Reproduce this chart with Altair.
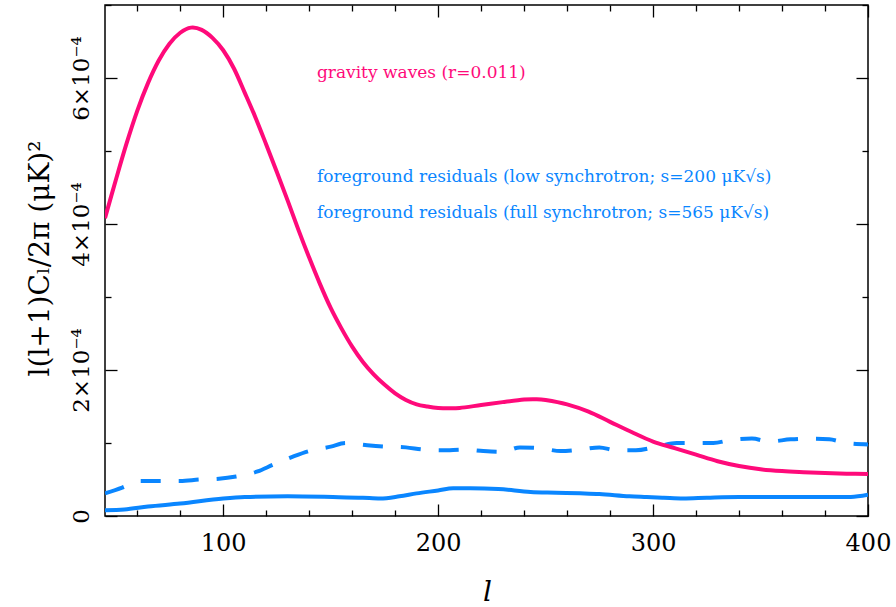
import altair as alt
import pandas as pd

# Plot area size in pixels
W, H = 763, 511
FONT = "DejaVu Serif"
PINK = "#ff0a7a"
BLUE = "#0a86ff"

# Tensor (gravity-wave) B-mode spectrum, r = 0.011  (values in units of 1e-4 muK^2)
gw_l = [45, 50, 55, 60, 65, 70, 75, 80, 85, 90, 95, 100, 105, 110, 115, 120,
        125, 130, 135, 140, 145, 150, 155, 160, 165, 170, 175, 180, 185, 190,
        195, 200, 205, 210, 220, 230, 240, 245, 250, 260, 270, 280, 290, 300,
        310, 320, 330, 340, 350, 360, 370, 380, 390, 400]
gw_v = [4.08, 4.60, 5.10, 5.55, 5.93, 6.24, 6.47, 6.62, 6.69, 6.66, 6.55, 6.38,
        6.13, 5.80, 5.46, 5.09, 4.71, 4.32, 3.92, 3.54, 3.18, 2.85, 2.57, 2.32,
        2.11, 1.94, 1.80, 1.68, 1.59, 1.53, 1.50, 1.48, 1.475, 1.48, 1.52, 1.56,
        1.595, 1.60, 1.59, 1.53, 1.43, 1.29, 1.15, 1.02, 0.93, 0.84, 0.75, 0.685,
        0.64, 0.615, 0.60, 0.588, 0.58, 0.575]

# Foreground residuals, low synchrotron (s = 200 muK sqrt(s))
low_l = [45, 54, 65, 80, 100, 110, 130, 151, 165, 173, 182, 190, 200, 207, 215,
         228, 243, 255, 266, 275, 289, 297, 305, 314, 325, 340, 360, 380, 392, 400]
low_v = [0.08, 0.09, 0.13, 0.17, 0.24, 0.26, 0.27, 0.26, 0.25, 0.24, 0.27, 0.31,
         0.35, 0.38, 0.38, 0.37, 0.33, 0.32, 0.31, 0.30, 0.27, 0.26, 0.25, 0.24,
         0.25, 0.26, 0.26, 0.26, 0.26, 0.29]

# Foreground residuals, full synchrotron (s = 565 muK sqrt(s))
full_l = [45, 53, 61, 71, 80, 89, 98, 106, 116, 123, 133, 140, 150, 157, 167,
          176, 185, 193, 202, 212, 221, 230, 238, 247, 257, 266, 275, 283, 292,
          302, 311, 320, 328, 336, 346, 354, 364, 373, 382, 390, 400]
full_v = [0.31, 0.39, 0.48, 0.48, 0.48, 0.50, 0.51, 0.54, 0.61, 0.70, 0.82, 0.89,
          0.95, 1.00, 0.97, 0.95, 0.94, 0.91, 0.90, 0.91, 0.89, 0.88, 0.94, 0.93,
          0.89, 0.91, 0.94, 0.90, 0.90, 0.95, 1.00, 1.00, 1.00, 1.04, 1.06, 1.02,
          1.05, 1.06, 1.05, 1.00, 0.98]

# In-plot labels
ann_text = ["gravity waves (r=0.011)",
            "foreground residuals (low synchrotron; s=200 μK√s)",
            "foreground residuals (full synchrotron; s=565 μK√s)"]
ann_l = [143.6, 143.6, 143.6]
ann_v = [6.07, 4.65, 4.15]
ann_color = [PINK, BLUE, BLUE]

# Axis tick positions
x_major = [100, 200, 300, 400]
x_minor = [l for l in range(60, 400, 20) if l % 100]
y_major = [0, 2e-4, 4e-4, 6e-4]
y_minor = [1e-4, 3e-4, 5e-4, 7e-4]


def series(l, v):
    return pd.DataFrame({"l": l, "v": [x * 1e-4 for x in v]})


gw = series(gw_l, gw_v)
low = series(low_l, low_v)
full = series(full_l, full_v)
ann = pd.DataFrame({"l": ann_l, "v": [x * 1e-4 for x in ann_v],
                    "t": ann_text, "c": ann_color})

xs = alt.Scale(domain=[45, 400], nice=False, zero=False)
ys = alt.Scale(domain=[0, 7e-4], nice=False, zero=False)


def line(df, color, interp, dash=None):
    kw = {"strokeDash": dash} if dash else {}
    return alt.Chart(df).mark_line(
        color=color, strokeWidth=4, interpolate=interp, clip=True,
        strokeCap="butt", **kw
    ).encode(
        x=alt.X("l:Q", scale=xs, axis=None),
        y=alt.Y("v:Q", scale=ys, axis=None),
    )


def tick_axis(orient, values, size, offset):
    return alt.Axis(orient=orient, values=values, tickSize=size, offset=offset,
                    labels=False, domain=False, grid=False, title=None,
                    tickColor="black", tickWidth=1.3)


def axis_layer(xa, ya):
    return alt.Chart(gw).mark_point(opacity=0).encode(
        x=alt.X("l:Q", scale=xs, axis=xa),
        y=alt.Y("v:Q", scale=ys, axis=ya),
    )


x_labels = alt.Axis(
    orient="bottom", values=x_major, ticks=False, tickSize=0, domain=False,
    grid=False, labelFont=FONT, labelFontSize=24, labelColor="black",
    labelBaseline="alphabetic", labelPadding=34, labelFlush=False,
    labelOverlap=False, title="l", titleFont=FONT, titleFontSize=28,
    titleFontStyle="italic", titleFontWeight="normal", titleColor="black",
    titleX=382, titleY=84, titleAlign="center", titleBaseline="alphabetic",
)
y_labels = alt.Axis(
    orient="left", values=y_major, ticks=False, tickSize=0, domain=False,
    grid=False, labelFont=FONT, labelFontSize=23, labelColor="black",
    labelAngle=270, labelAlign="center", labelBaseline="alphabetic",
    labelPadding=17, labelOverlap=False,
    labelExpr="datum.value == 0 ? '0' : round(datum.value * 10000) + '×10⁻⁴'",
    title="l(l+1)C\u2097/2π  (μK)²", titleFont=FONT, titleFontSize=28,
    titleFontWeight="normal", titleColor="black", titleAngle=270,
    titleX=-57, titleY=253, titleAlign="center", titleBaseline="alphabetic",
)

layers = [
    axis_layer(x_labels, y_labels),
    # inward ticks along the bottom and left edges
    axis_layer(tick_axis("top", x_major, 12, -H), tick_axis("right", y_major, 12, -W)),
    axis_layer(tick_axis("top", x_minor, 6, -H), tick_axis("right", y_minor, 6, -W)),
    # inward ticks along the top and right edges
    axis_layer(tick_axis("bottom", x_major, 12, -H), tick_axis("left", y_major, 12, -W)),
    axis_layer(tick_axis("bottom", x_minor, 6, -H), tick_axis("left", y_minor, 6, -W)),
    line(low, BLUE, "monotone"),
    line(full, BLUE, "monotone", [20, 18]),
    line(gw, PINK, "cardinal"),
    alt.Chart(ann).mark_text(
        font=FONT, fontSize=17, align="left", baseline="middle"
    ).encode(
        x=alt.X("l:Q", scale=xs, axis=None),
        y=alt.Y("v:Q", scale=ys, axis=None),
        text="t:N",
        color=alt.Color("c:N", scale=None),
    ),
]

chart = alt.layer(*layers).resolve_axis(
    x="independent", y="independent"
).properties(
    width=W, height=H,
    autosize=alt.AutoSizeParams(type="none"),
    padding={"left": 105, "top": 5, "right": 28, "bottom": 91},
    background="white",
).configure_view(stroke="black", strokeWidth=1.5)

chart.save("out.html", embed_options={"renderer": "svg", "actions": False})
